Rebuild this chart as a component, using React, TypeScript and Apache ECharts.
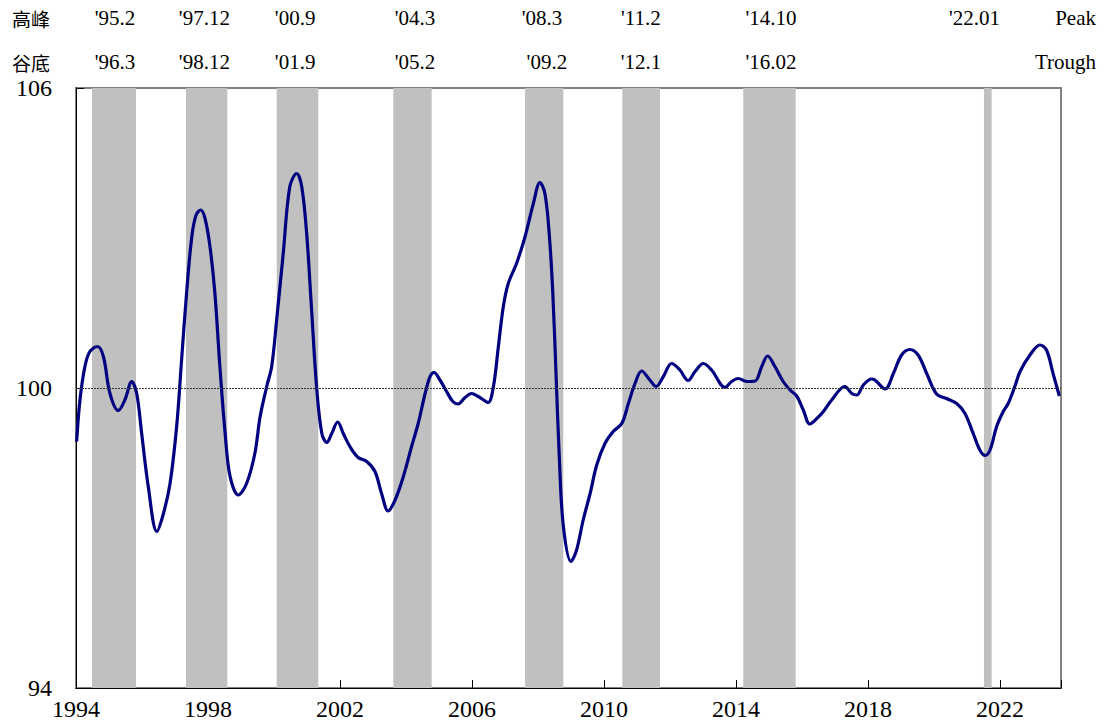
import React, { useEffect, useRef } from "react";
import * as echarts from "echarts";

// Composite index (monthly, decimal years)
const years = [
  1994.02, 1994.12, 1994.27, 1994.42, 1994.65, 1994.83, 1995.03, 1995.28, 1995.48, 1995.69,
  1995.84, 1995.99, 1996.19, 1996.45, 1996.65, 1996.85, 1997.05, 1997.2, 1997.35, 1997.51,
  1997.64, 1997.78, 1997.91, 1998.06, 1998.21, 1998.36, 1998.52, 1998.67, 1998.92, 1999.17,
  1999.42, 1999.58, 1999.78, 1999.93, 2000.08, 2000.28, 2000.48, 2000.69, 2000.84, 2000.99,
  2001.14, 2001.29, 2001.45, 2001.6, 2001.75, 2001.93, 2002.1, 2002.3, 2002.55, 2002.81,
  2003.06, 2003.26, 2003.46, 2003.67, 2003.92, 2004.17, 2004.37, 2004.58, 2004.73, 2004.85,
  2005.03, 2005.23, 2005.42, 2005.58, 2005.79, 2005.99, 2006.19, 2006.29, 2006.49, 2006.65,
  2006.8, 2006.95, 2007.1, 2007.35, 2007.61, 2007.86, 2008.06, 2008.21, 2008.34, 2008.45,
  2008.55, 2008.65, 2008.77, 2009.0, 2009.17, 2009.37, 2009.58, 2009.78, 2010.03, 2010.28,
  2010.54, 2010.74, 2010.94, 2011.14, 2011.39, 2011.58, 2011.8, 2012.05, 2012.3, 2012.55,
  2012.76, 2013.01, 2013.26, 2013.67, 2013.87, 2014.07, 2014.32, 2014.58, 2014.78, 2014.96,
  2015.18, 2015.43, 2015.64, 2015.84, 2016.04, 2016.24, 2016.45, 2016.65, 2016.9, 2017.3,
  2017.51, 2017.66, 2017.86, 2018.11, 2018.21, 2018.52, 2018.77, 2019.02, 2019.27, 2019.52,
  2019.78, 2020.08, 2020.38, 2020.69, 2020.94, 2021.19, 2021.39, 2021.55, 2021.7, 2021.9,
  2022.1, 2022.25, 2022.45, 2022.61, 2022.91, 2023.21, 2023.41, 2023.61, 2023.8,
];
const indexValues = [
  98.93, 99.76, 100.43, 100.73, 100.83, 100.63, 99.89, 99.55, 99.76, 100.13,
  99.89, 99.09, 98.03, 97.13, 97.49, 98.09, 99.23, 100.56, 101.89, 103.03,
  103.46, 103.56, 103.39, 102.83, 101.89, 100.43, 99.09, 98.23, 97.86, 98.09,
  98.69, 99.43, 100.03, 100.43, 101.36, 102.69, 104.03, 104.29, 104.03, 103.09,
  101.56, 100.03, 99.09, 98.91, 99.09, 99.32, 99.09, 98.83, 98.61, 98.53,
  98.33, 97.89, 97.54, 97.76, 98.23, 98.83, 99.29, 99.89, 100.23, 100.31,
  100.16, 99.93, 99.73, 99.68, 99.81, 99.89, 99.83, 99.79, 99.71, 100.03,
  100.83, 101.63, 102.09, 102.49, 103.03, 103.69, 104.11, 103.89, 103.09, 101.89,
  100.23, 98.56, 97.23, 96.53, 96.76, 97.36, 97.89, 98.46, 98.89, 99.13,
  99.29, 99.69, 100.09, 100.34, 100.16, 100.03, 100.23, 100.49, 100.36, 100.15,
  100.33, 100.49, 100.36, 100.01, 100.13, 100.19, 100.13, 100.14, 100.43, 100.64,
  100.43, 100.13, 99.96, 99.84, 99.56, 99.28, 99.39, 99.53, 99.76, 100.03,
  99.89, 99.86, 100.06, 100.18, 100.16, 99.98, 100.29, 100.66, 100.77, 100.66,
  100.29, 99.88, 99.79, 99.69, 99.49, 99.09, 98.76, 98.65, 98.76, 99.23,
  99.53, 99.69, 100.03, 100.33, 100.66, 100.86, 100.76, 100.29, 99.84,
];

// Shaded contraction periods (decimal years, as drawn)
const shadeStart = [1994.485, 1997.333, 2000.082, 2003.615, 2007.606, 2010.555, 2014.221, 2021.515];
const shadeEnd = [1995.818, 1998.585, 2001.342, 2004.779, 2008.767, 2011.697, 2015.809, 2021.748];

// Peak / trough date labels and where they sit (decimal years)
const peakLabels = ["'95.2", "'97.12", "'00.9", "'04.3", "'08.3", "'11.2", "'14.10", "'22.01"];
const peakAt = [1995.18, 1997.89, 2000.64, 2004.27, 2008.12, 2011.12, 2015.06, 2021.23];
const troughLabels = ["'96.3", "'98.12", "'01.9", "'05.2", "'09.2", "'12.1", "'16.02"];
const troughAt = [1995.18, 1997.89, 2000.64, 2004.27, 2008.27, 2011.12, 2015.06];

const xMin = 1994;
const xMax = 2023.85;
const xInterval = 4;
const yMin = 94;
const yMax = 106;
const yInterval = 6;
const baseline = 100;

export default function App() {
  const ref = useRef<HTMLDivElement>(null);

  useEffect(() => {
    if (!ref.current) return;
    const chart = echarts.init(ref.current, null, { renderer: "svg" });
    const serif = "'Liberation Serif', 'Times New Roman', Times, serif";
    const cjk = "'Noto Sans CJK TC', 'Noto Sans CJK SC', sans-serif";

    chart.setOption({
      animation: false,
      textStyle: { fontFamily: serif },
      grid: {
        left: 76,
        right: 45,
        top: 88,
        bottom: 40,
        show: true,
        borderColor: "#808080",
        borderWidth: 2,
        backgroundColor: "transparent",
      },
      xAxis: {
        type: "value",
        min: xMin,
        max: xMax,
        interval: xInterval,
        axisLine: { show: true, onZero: false, lineStyle: { color: "#000", width: 1 } },
        axisTick: { show: true, inside: true, length: 8, lineStyle: { color: "#000" } },
        axisLabel: {
          color: "#000",
          fontFamily: serif,
          fontSize: 24,
          margin: 9,
          formatter: (v: number) =>
            Number.isInteger(v) && (v - xMin) % xInterval === 0 ? String(v) : "",
        },
        splitLine: { show: false },
      },
      yAxis: {
        type: "value",
        min: yMin,
        max: yMax,
        interval: yInterval,
        axisLine: { show: true, onZero: false, lineStyle: { color: "#000", width: 1 } },
        axisTick: { show: true, inside: true, length: 8, lineStyle: { color: "#000" } },
        axisLabel: { color: "#000", fontFamily: serif, fontSize: 24, margin: 24 },
        splitLine: { show: false },
      },
      series: [
        {
          type: "line",
          data: [],
          z: 1,
          silent: true,
          markLine: {
            silent: true,
            symbol: ["none", "none"],
            label: { show: false },
            lineStyle: { color: "#333", type: [2, 1], width: 1 },
            data: [{ yAxis: baseline }],
          },
        },
        {
          type: "line",
          data: [],
          z: 2,
          silent: true,
          markArea: {
            silent: true,
            itemStyle: { color: "#c0c0c0", opacity: 1 },
            data: shadeStart.map((s, i) => [{ xAxis: s }, { xAxis: shadeEnd[i] }]),
          },
        },
        {
          type: "line",
          z: 3,
          data: years.map((t, i) => [t, indexValues[i]]),
          smooth: 0.35,
          symbol: "none",
          lineStyle: { color: "#000080", width: 3.2 },
        },
      ],
    });

    const px = (t: number) => chart.convertToPixel({ xAxisIndex: 0 }, t) as number;
    const rowPeak = 18;
    const rowTrough = 62;
    const txt = (text: string, x: number, y: number, align: string, fam: string, size: number) => ({
      type: "text",
      x,
      y,
      silent: true,
      style: { text, fill: "#000", fontFamily: fam, fontSize: size, align, verticalAlign: "middle" },
    });
    const graphics: any[] = [
      txt("高峰", 31, rowPeak, "center", cjk, 19),
      txt("谷底", 31, rowTrough, "center", cjk, 19),
      txt("Peak", 1096, rowPeak, "right", serif, 21),
      txt("Trough", 1096, rowTrough, "right", serif, 21),
    ];
    peakLabels.forEach((l, i) => graphics.push(txt(l, px(peakAt[i]), rowPeak, "center", serif, 21)));
    troughLabels.forEach((l, i) => graphics.push(txt(l, px(troughAt[i]), rowTrough, "center", serif, 21)));
    chart.setOption({ graphic: graphics });

    return () => chart.dispose();
  }, []);

  return (
    <div
      ref={ref}
      style={{ position: "absolute", left: 0, top: 0, width: 1106, height: 728, background: "#fff" }}
    />
  );
}
